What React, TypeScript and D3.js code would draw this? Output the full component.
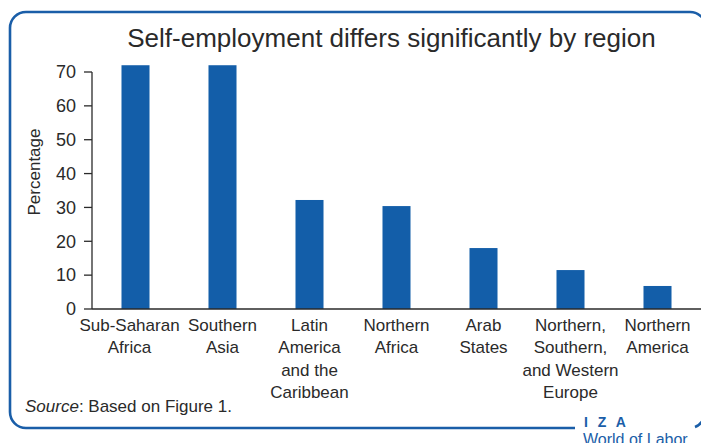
import React from "react";
import * as d3 from "d3";

const categories = [
  "Sub-Saharan Africa",
  "Southern Asia",
  "Latin America and the Caribbean",
  "Northern Africa",
  "Arab States",
  "Northern, Southern, and Western Europe",
  "Northern America",
];
const categoryLines = [
  ["Sub-Saharan", "Africa"],
  ["Southern", "Asia"],
  ["Latin", "America", "and the", "Caribbean"],
  ["Northern", "Africa"],
  ["Arab", "States"],
  ["Northern,", "Southern,", "and Western", "Europe"],
  ["Northern", "America"],
];
const values = [72.0, 72.0, 32.2, 30.4, 18.0, 11.5, 6.8];
const yTicks = [0, 10, 20, 30, 40, 50, 60, 70];

const W = 701;
const H = 443;
const BLUE = "#1a5ea8";
const BAR = "#135ea9";
const TEXT = "#2a2a2a";
const FONT = "'Liberation Sans', Arial, sans-serif";

export default function App() {
  const x = d3
    .scaleBand<string>()
    .domain(categories)
    .range([92, 701])
    .paddingInner(0.678)
    .paddingOuter(0.339);
  const y = d3.scaleLinear().domain([0, 70]).range([309, 72]);

  // frame path with gap at bottom right for logo
  const L = 10, T = 12, R = 706, B = 428, r = 16;
  const frame = d3.path();
  frame.moveTo(575, B);
  frame.lineTo(L + r, B);
  frame.arcTo(L, B, L, B - r, r);
  frame.lineTo(L, T + r);
  frame.arcTo(L, T, L + r, T, r);
  frame.lineTo(R - r, T);
  frame.arcTo(R, T, R, T + r, r);
  frame.lineTo(R, B - r);

  return (
    <svg
      width={W}
      height={H}
      style={{ position: "absolute", left: 0, top: 0, background: "#fff" }}
      fontFamily={FONT}
    >
      <rect x={0} y={0} width={W} height={H} fill="#fff" />
      <path d={frame.toString()} fill="none" stroke={BLUE} strokeWidth={2.6} />
      <text x={391.5} y={47} textAnchor="middle" fontSize={26} fill={TEXT}>
        Self-employment differs significantly by region
      </text>

      {/* bars */}
      {categories.map((c, i) => (
        <rect
          key={c}
          x={x(c)}
          y={y(values[i])}
          width={x.bandwidth()}
          height={y(0) - y(values[i])}
          fill={BAR}
        />
      ))}

      {/* y axis */}
      <line x1={92} x2={92} y1={y(70)} y2={y(0)} stroke={TEXT} strokeWidth={1.3} />
      {yTicks.map((t) => (
        <g key={t}>
          <line x1={84} x2={92} y1={y(t)} y2={y(t)} stroke={TEXT} strokeWidth={1.3} />
          <text x={76} y={y(t)} dy="0.35em" textAnchor="end" fontSize={18} fill={TEXT}>
            {t}
          </text>
        </g>
      ))}
      <text
        transform={`translate(40, ${172}) rotate(-90)`}
        textAnchor="middle"
        fontSize={17}
        fill={TEXT}
      >
        Percentage
      </text>

      {/* x axis */}
      <line x1={92} x2={701} y1={y(0)} y2={y(0)} stroke={TEXT} strokeWidth={1.3} />
      {categories.map((c, i) => {
        const cx = (x(c) as number) + x.bandwidth() / 2 - (i === 0 ? 6 : 0);
        return (
          <text key={c} textAnchor="middle" fontSize={17} fill={TEXT}>
            {categoryLines[i].map((ln, j) => (
              <tspan key={j} x={cx} y={331 + j * 22.4}>
                {ln}
              </tspan>
            ))}
          </text>
        );
      })}

      <text x={25} y={412} fontSize={17} fill={TEXT}>
        <tspan fontStyle="italic">Source</tspan>: Based on Figure 1.
      </text>

      {/* logo */}
      <text x={584} y={427} fontSize={14} fontWeight="bold" fill={BLUE} letterSpacing={3}>
        I Z A
      </text>
      <text x={583} y={445} fontSize={16} fill={BLUE}>
        World of Labor
      </text>
      <path
        d={`M 695 ${B - 1} Q 700 ${B - 3} 703 ${B - 8}`}
        fill="none"
        stroke={BLUE}
        strokeWidth={2.6}
      />
    </svg>
  );
}
